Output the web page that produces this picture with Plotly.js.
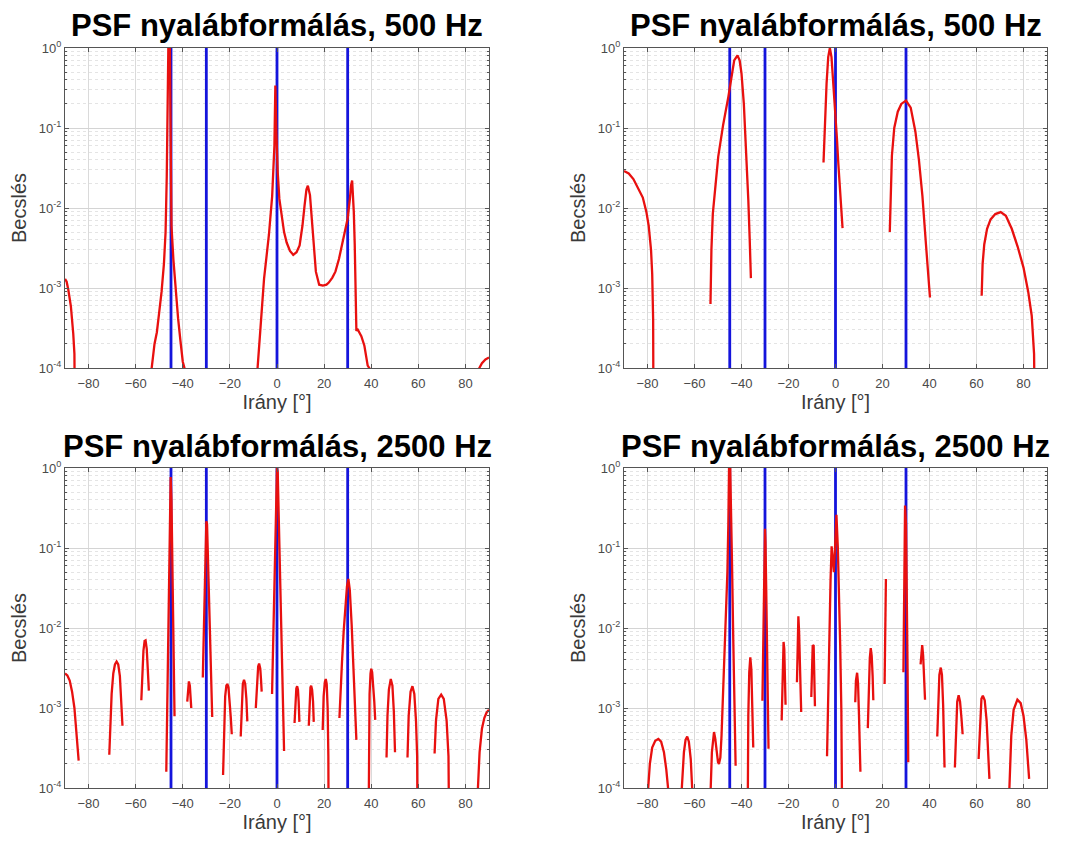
<!DOCTYPE html>
<html>
<head>
<meta charset="utf-8">
<script src="https://cdn.plot.ly/plotly-3.0.1.min.js"></script>
<style>
body{margin:0;background:#fff;}
#chart{width:1071px;height:841px;}
</style>
</head>
<body>
<div id="chart"></div>
<script>
// ---- data ----
const panelTitles = ['PSF nyalábformálás, 500 Hz','PSF nyalábformálás, 500 Hz','PSF nyalábformálás, 2500 Hz','PSF nyalábformálás, 2500 Hz'];
const trueDirs = [-45, -30, 0, 30];
const xTicks = [-80,-60,-40,-20,0,20,40,60,80];
const yExps = [-4,-3,-2,-1,0];

// top-left, 500 Hz
const tlAng = [
 [-90,-89.3,-88.6,-87.5,-86.5,-86,-85.5],
 [-53.6,-53.2,-52,-51,-50,-49,-48,-47.3,-46.8,-46.4,-46.1,-45.5,-45.3,-45.1,-44.8,-44,-43,-42,-41,-40,-39.3,-39],
 [-8.6,-8.25,-7,-5.5,-3.44,-2.06,-1.1,-0.7,-0.27,0.3,1,2.06,3,4.1,5.5,6.9,8.3,9.6,10.8,11.7,12.5,13.1,13.6,14,15.1,16,16.5,17.9,19.5,21,22,23.5,24.8,26.3,27.5,28.8,30,31,31.4,31.9,32.3,32.6,33,33.3,33.7,34.1,34.4,35.1,35.8,37.1,38,38.5,39.2,39.5],
 [85.6,85.9,87,88.5,90]
];
const tlVal = [
 [1.3e-3,1.2e-3,9.5e-4,5.9e-4,2.7e-4,1.5e-4,1e-6],
 [1e-6,1e-4,2e-4,2.8e-4,5e-4,9e-4,2e-3,5e-3,2.5e-2,0.2,1.2,1.2,0.1,0.015,6e-3,2.3e-3,9e-4,4.2e-4,2.2e-4,1.2e-4,1e-4,1e-6],
 [1e-6,1e-4,3.2e-4,1.3e-3,4.6e-3,0.014,0.06,0.34,0.089,0.028,0.013,7.4e-3,5e-3,3.7e-3,2.9e-3,2.6e-3,2.8e-3,3.4e-3,6e-3,0.0107,0.017,0.019,0.017,0.0145,5.5e-3,2.4e-3,1.6e-3,1.1e-3,1.07e-3,1.1e-3,1.17e-3,1.35e-3,1.6e-3,2.3e-3,3.4e-3,5e-3,7.4e-3,0.0135,0.019,0.022,0.015,9e-3,3.5e-3,1.3e-3,2.9e-4,3.1e-4,3e-4,2.8e-4,2.5e-4,1.9e-4,1.35e-4,1.07e-4,1e-4,1e-6],
 [1e-6,1e-4,1.15e-4,1.28e-4,1.35e-4]
];

// top-right, 500 Hz
const trAng = [
 [-90,-88,-86,-84,-82,-80.5,-79.5,-78.5,-78,-77.6,-77.3],
 [-53.2,-52.8,-52.2,-51,-49.9,-47.8,-45.6,-43.1,-41.7,-40.8,-40,-39,-38.1,-37.1,-36.5,-36],
 [-5.1,-4.55,-3.8,-3.1,-2.4,-1.7,-1,0,0.6,1.2,1.8,2.4,3],
 [23.1,23.5,24,25,26.5,28,30,32,34,35.5,37,38.5,39.5,40.2],
 [62.2,62.6,63.3,64.5,66,68,70.3,72.5,75,77.5,80,82,83.5,84.5,85.3]
];
const trVal = [
 [0.029,0.027,0.023,0.018,0.0135,9e-3,6e-3,3e-3,1.5e-3,4e-4,1e-6],
 [6.3e-4,3e-3,8.5e-3,0.022,0.044,0.11,0.245,0.7,0.81,0.7,0.48,0.2,0.058,0.0126,4e-3,1.33e-3],
 [0.037,0.1,0.36,0.77,1.0,0.77,0.4,0.138,0.075,0.036,0.017,9.5e-3,5.6e-3],
 [5e-3,0.018,0.045,0.1,0.16,0.2,0.22,0.18,0.09,0.04,0.014,3.5e-3,1.5e-3,7.6e-4],
 [8e-4,2e-3,3.5e-3,5.5e-3,7.2e-3,8.4e-3,8.9e-3,8e-3,5.5e-3,3.3e-3,1.8e-3,9e-4,4.5e-4,1.5e-4,1e-6]
];

// bottom-left, 2500 Hz
const blAng = [
 [-90,-89,-88,-87,-86,-85,-84.2],
 [-71.2,-70.7,-70.2,-69.5,-68.8,-68.1,-67.4,-66.7,-66.1,-65.6],
 [-57.6,-57.2,-56.7,-56.2,-55.8,-55.3,-54.8,-54.4],
 [-47,-46.5,-46,-45.5,-45.15,-44.8,-44.5,-44,-43.5],
 [-38.1,-37.8,-37.4,-37,-36.7,-36.4],
 [-31.5,-31,-30.5,-30,-29.7,-29.2,-28.6,-28,-27.5],
 [-22.9,-22.5,-22,-21.5,-21.1,-20.6,-20,-19.6,-19.2],
 [-15.4,-15,-14.5,-14,-13.5,-13,-12.6],
 [-9,-8.5,-8,-7.6,-7.1,-6.8,-6.5],
 [-2.1,-1.5,-1,-0.5,0,0.3,0.8,1.3,1.8,2.3,3],
 [7.45,7.8,8.2,8.55,8.9,9.2,9.5],
 [13.5,13.8,14.2,14.5,14.9,15.3,15.6],
 [19.4,19.8,20.3,20.7,21.1,21.5,21.8,22.1],
 [26.5,27,27.6,28.3,29,29.7,30.3,30.9,31.7,32.3,32.8,33.3,33.7],
 [38.5,38.9,39.3,39.7,40,40.4,40.9,41.3,41.7],
 [46.5,46.9,47.5,48.3,49,49.6,50.1],
 [55.4,55.9,56.7,57.5,58.3,59,59.5,59.9],
 [66.9,67.5,68.5,69.7,70.8,72,72.8,73.5],
 [84.8,85.3,86,87,88,89,90]
];
const blVal = [
 [2.7e-3,2.55e-3,2.2e-3,1.6e-3,1.0e-3,4.8e-4,2.2e-4],
 [2.6e-4,7e-4,1.5e-3,2.7e-3,3.5e-3,3.8e-3,3.5e-3,2.5e-3,1.3e-3,6e-4],
 [1.25e-3,2.8e-3,5.2e-3,6.9e-3,7e-3,5.5e-3,3.2e-3,1.65e-3],
 [1.6e-4,1.7e-3,0.017,0.19,0.77,0.4,0.093,8.7e-3,7.9e-4],
 [1.2e-3,1.9e-3,2.15e-3,1.9e-3,1.4e-3,1e-3],
 [2.4e-3,1.1e-2,5e-2,0.215,0.2,0.058,0.014,3.3e-3,7.7e-4],
 [1.45e-4,6e-4,1.4e-3,1.9e-3,2e-3,1.8e-3,1.2e-3,7.5e-4,4.7e-4],
 [4.4e-4,1.2e-3,2e-3,2.25e-3,2e-3,1.3e-3,6.8e-4],
 [1e-3,2.3e-3,3.3e-3,3.6e-3,3.1e-3,2.3e-3,1.6e-3],
 [1.5e-3,9e-3,0.043,0.21,1.0,0.9,0.2,0.046,0.01,2.4e-3,2.9e-4],
 [6.5e-4,1.3e-3,1.75e-3,1.87e-3,1.7e-3,1.2e-3,6.7e-4],
 [6e-4,1.3e-3,1.8e-3,1.9e-3,1.7e-3,1.2e-3,6.7e-4],
 [5.3e-4,1.4e-3,2.1e-3,2.3e-3,2e-3,1e-3,2.5e-4,1e-6],
 [7.5e-4,1.8e-3,3.8e-3,9e-3,0.019,0.033,0.041,0.03,0.011,4.5e-3,2.1e-3,9e-4,4e-4],
 [1e-6,3e-4,1.5e-3,2.7e-3,3.1e-3,2.8e-3,1.9e-3,1.2e-3,7.1e-4],
 [2.4e-4,8e-4,1.7e-3,2.3e-3,1.9e-3,9e-4,2.8e-4],
 [2.4e-4,8e-4,1.6e-3,1.87e-3,1.5e-3,7e-4,2.5e-4,1e-6],
 [2.7e-4,7e-4,1.3e-3,1.47e-3,1.3e-3,7e-4,2.5e-4,1e-6],
 [1e-6,1e-4,2.8e-4,5.5e-4,7.5e-4,8.8e-4,9.5e-4]
];

// bottom-right, 2500 Hz
const brAng = [
 [-80.1,-79.7,-79,-78,-76.7,-75.4,-74.2,-73,-72,-71.25,-70.9],
 [-65.7,-65.4,-64.5,-63.8,-63.1,-62.4,-61.6,-61,-60.7],
 [-53.4,-53.1,-52.6,-52.1,-51.7,-51.2,-50.6,-50,-49.6,-49,-48.5,-48,-47.5,-47,-46.5,-46,-45.6,-45.3,-44.8,-44.4,-44,-43.5,-43,-42.5],
 [-37.7,-37.4,-37.1,-36.7,-36.25,-35.8,-35.4,-35],
 [-31.1,-30.8,-30.5,-30.2,-30,-29.8,-29.5,-29,-28.5],
 [-22.9,-22.6,-22.3,-22.1,-21.8,-21.5,-21.25],
 [-16.4,-16.1,-15.8,-15.5,-15.1,-14.6],
 [-10.3,-10,-9.7,-9.3,-9,-8.75],
 [-3.6,-3.1,-2.6,-2.1,-1.65,-1.2,-0.7,-0.2,0.4,1,1.5,2,2.5,3,3.2],
 [8.4,8.7,9.2,9.6,10,10.3,10.6],
 [13.75,14.1,14.6,15,15.4,15.8,16.1],
 [20.9,21.2,21.45],
 [28.9,29.2,29.6,30,30.4,30.7,30.95],
 [36.2,36.6,36.9,37.3,37.7,38.1],
 [43.3,43.7,44.2,44.8,45.3,45.8,46.4],
 [50.8,51.3,51.8,52.4,53,53.6,54.1],
 [60.9,61.5,62.1,62.7,63.5,64.3,65,65.5],
 [73.6,74,74.8,75.8,77.4,78.8,80,81.2,82.4]
];
const brVal = [
 [1e-6,1e-4,2e-4,3.2e-4,3.9e-4,4.1e-4,3.8e-4,2.8e-4,1.7e-4,1e-4,1e-6],
 [1e-6,1e-4,2.8e-4,4e-4,4.4e-4,3.8e-4,2.3e-4,1e-4,1e-6],
 [1e-6,1e-4,2.8e-4,4.6e-4,5e-4,4.2e-4,2.8e-4,2.1e-4,2e-4,2.4e-4,4.5e-4,1.1e-3,2.5e-3,6e-3,0.017,0.05,0.2,1.0,1.0,0.3,0.056,7e-3,1e-3,1.9e-4],
 [1e-6,1e-4,8e-4,2.8e-3,4.3e-3,3e-3,1.1e-3,3.2e-4],
 [1.23e-3,4e-3,0.018,0.07,0.174,0.12,0.034,3.5e-3,3.1e-4],
 [7e-4,2.5e-3,5.5e-3,6.7e-3,5.5e-3,2.5e-3,1.1e-3],
 [2.1e-3,8e-3,0.014,9e-3,3e-3,8.9e-4],
 [1.37e-3,4.5e-3,6.1e-3,6e-3,3e-3,1.05e-3],
 [2.5e-4,1.6e-3,8e-3,0.04,0.105,0.07,0.05,0.1,0.26,0.1,0.03,6e-3,9e-4,1e-4,1e-6],
 [1.18e-3,2.2e-3,2.76e-3,2e-3,8e-4,3.5e-4,1.6e-4],
 [5.6e-4,1.5e-3,4.2e-3,5.6e-3,4.5e-3,2.5e-3,1.25e-3],
 [2e-3,0.01,0.041],
 [2.8e-3,0.03,0.34,0.2,0.025,2.5e-3,2.1e-4],
 [3.5e-3,5.5e-3,6.1e-3,4.5e-3,2.5e-3,1.27e-3],
 [4.4e-4,1.3e-3,2.6e-3,3.2e-3,2.6e-3,1.1e-3,1.8e-4],
 [1.8e-4,6e-4,1.2e-3,1.44e-3,1.2e-3,7.5e-4,4.7e-4],
 [2.3e-4,7.5e-4,1.3e-3,1.42e-3,1.25e-3,7e-4,3e-4,1.3e-4],
 [1e-6,1e-4,4.5e-4,9.5e-4,1.27e-3,1.15e-3,8e-4,4e-4,1.3e-4]
];

// ---- build ----
function joinSegs(segs){
  const out = [];
  segs.forEach((s,i)=>{ if(i>0) out.push(null); s.forEach(v=>out.push(v)); });
  return out;
}
function stems(dirs){
  const x=[], y=[];
  dirs.forEach(d=>{ x.push(d,d,null); y.push(Math.pow(10,yExps[0]), Math.pow(10,yExps[yExps.length-1]), null); });
  return {x,y};
}

const panels = [
  {ang: tlAng, val: tlVal},
  {ang: trAng, val: trVal},
  {ang: blAng, val: blVal},
  {ang: brAng, val: brVal}
];

const W = 1071, H = 841;
// plot-area boxes in pixels [left,right,top,bottom]
const boxes = [[65,489,48,368],[624,1047,48,368],[65,489,468,788],[624,1047,468,788]];

const traces = [];
const layout = {
  width: W, height: H,
  margin: {l:0,r:0,t:0,b:0},
  paper_bgcolor: '#ffffff', plot_bgcolor: '#ffffff',
  showlegend: false,
  font: {family: 'Liberation Sans, Arial, sans-serif', color: '#404040'},
  annotations: []
};

const tickVals = yExps.map(e=>Math.pow(10,e));
const tickText = yExps.map(e=>'10<sup>'+e+'</sup>');

panels.forEach((p,i)=>{
  const n = i===0 ? '' : String(i+1);
  const xa = 'x'+n, ya = 'y'+n;
  const b = boxes[i];
  const st = stems(trueDirs);
  traces.push({x: st.x, y: st.y, xaxis: xa, yaxis: ya, type: 'scatter', mode: 'lines',
    line: {color: '#1414dc', width: 2.8}, hoverinfo: 'skip'});
  traces.push({x: joinSegs(p.ang), y: joinSegs(p.val), xaxis: xa, yaxis: ya, type: 'scatter', mode: 'lines',
    line: {color: '#e8100f', width: 2.3}, connectgaps: false});

  layout['xaxis'+n] = {
    domain: [b[0]/W, b[1]/W], anchor: ya,
    range: [-90, 90], tickmode: 'array', tickvals: xTicks,
    showgrid: true, gridcolor: '#dadada', gridwidth: 1, zeroline: false,
    showline: true, linecolor: '#555555', linewidth: 1, mirror: 'ticks',
    ticks: 'inside', ticklen: 4, tickcolor: '#555555',
    tickfont: {size: 13, color: '#4a4a4a'}, ticklabelstandoff: 3,
    title: {text: 'Irány [°]', font: {size: 20, color: '#3a3a3a'}, standoff: 5}
  };
  layout['yaxis'+n] = {
    domain: [1-b[3]/H, 1-b[2]/H], anchor: xa,
    type: 'log', range: [yExps[0], yExps[yExps.length-1]],
    tickmode: 'array', tickvals: tickVals, ticktext: tickText,
    showgrid: true, gridcolor: '#d4d4d4', gridwidth: 1, zeroline: false,
    showline: true, linecolor: '#555555', linewidth: 1, mirror: 'ticks',
    ticks: 'inside', ticklen: 4, tickcolor: '#555555',
    tickfont: {size: 13, color: '#4a4a4a'},
    minor: {dtick: 'D1', showgrid: true, gridcolor: '#e4e4e4', griddash: 'dot', gridwidth: 1, ticks: 'inside', ticklen: 2, tickcolor: '#555555'},
    title: {text: 'Becslés', font: {size: 20, color: '#3a3a3a'}, standoff: 6}
  };
  layout.annotations.push({
    text: '<b>'+panelTitles[i]+'</b>', xref: 'paper', yref: 'paper',
    x: (b[0]+b[1])/2/W, y: 1-(b[2]-22)/H, xanchor: 'center', yanchor: 'middle',
    showarrow: false, font: {size: 31, color: '#000000', family: 'Liberation Sans, Arial, sans-serif'}
  });
});

Plotly.newPlot('chart', traces, layout, {staticPlot: true, displayModeBar: false});
</script>
</body>
</html>
